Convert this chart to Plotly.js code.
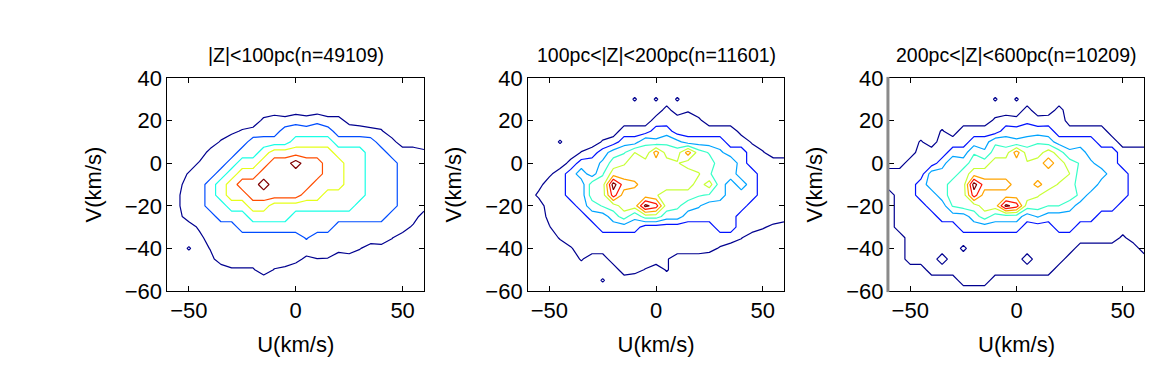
<!DOCTYPE html>
<html>
<head>
<meta charset="utf-8">
<script src="https://cdn.plot.ly/plotly-3.0.1.min.js"></script>
<style>
  html, body { margin: 0; padding: 0; background: #ffffff; }
  #chart { width: 1168px; height: 371px; }
</style>
</head>
<body>
<div id="chart"></div>
<script>
// Grid of velocity bins (km/s)
const U_VALUES = [-60,-55,-50,-45,-40,-35,-30,-25,-20,-15,-10,-5,0,5,10,15,20,25,30,35,40,45,50,55,60];
const V_VALUES = [-60,-55,-50,-45,-40,-35,-30,-25,-20,-15,-10,-5,0,5,10,15,20,25,30,35,40];

const PANEL_TITLES = ['|Z|<100pc(n=49109)', '100pc<|Z|<200pc(n=11601)', '200pc<|Z|<600pc(n=10209)'];
const X_TICKS = [-50, 0, 50];
const Y_TICKS = [-60, -40, -20, 0, 20, 40];

// Density level (rows: V from -60 up to 40; columns: U from -60 to 60)
const Z_NEAR = [
  [0,0,0,0,0,0,0,0,0,0,0,0,0,0,0,0,0,0,0,0,0,0,0,0,0],
  [0,0,0,0,0,0,0,0,0,0,0,0,0,0,0,0,0,0,0,0,0,0,0,0,0],
  [0,0,0,0,0,0,0.4,0.4,0.4,1,0.45,0.3,0,0,0,0,0,0,0,0,0,0,0,0,0],
  [0,0,0,0,0.2,1,1,1,1,1,1,1,0.8,0.3,0.48,0.45,0,0,0,0,0,0,0,0,0],
  [0,0,0.6,0,0.55,1,1,1,1,1,1,1,1,1,1,1,0.8,1,0.55,0.1,0.2,0,0,0,0],
  [0,0,0,0.2,1,1,1,1,1,1,1,1,1,1.6,1,1,1,1,1,1,1,0.55,0,0,0],
  [0,0,0,0.7,1,1,1,2,2,2,2,2,2,2,2,2,1,1,1,1,1,1,1,0.3,0],
  [0,0.2,1,1,1,2,2,2,3,3,3,3,2,2,2,2,2,2,2,2,2,1,1,1,0],
  [0,0.4,1,1,2,2,3,3,4,4,3,3,3,3,3,3,3,3,2,2,2,2,1,1,1],
  [0,0.4,1,1,2,3,4,4,5,5,5,5,5,4,4,3,3,3,3,2,2,2,1,1,1],
  [0,0.2,1,1,2,3,4,5,5,6,5,5,5,5,4,4,4,3,3,2,2,2,1,1,1],
  [0,0,0.6,1,1,2,3,4,4,5,5,5,5,5,5,4,4,3,3,2,2,2,1,1,1],
  [0,0,0,0.6,1,1,2,3,3,4,5,5,6,5,5,4,4,3,3,2,2,2,1,1,1],
  [0,0,0,0,0.8,1,1,2,2,3,4,4,4,4,4,4,3,3,3,2,2,1,1,1,0.7],
  [0,0,0,0,0,0.6,1,1,2,2,2,2,3,3,3,3,2,2,2,2,1,0.8,0,0,0],
  [0,0,0,0,0,0,0.3,0.6,0.8,1,1,2,2,2,2,2,1,1,1,0.75,0.6,0,0,0,0],
  [0,0,0,0,0,0,0,0,0,0.7,1,0.8,1.2,0.9,1.3,0.8,0.8,0.2,0,0,0,0,0,0,0],
  [0,0,0,0,0,0,0,0,0,0,0,0,0,0,0,0,0,0,0,0,0,0,0,0,0],
  [0,0,0,0,0,0,0,0,0,0,0,0,0,0,0,0,0,0,0,0,0,0,0,0,0],
  [0,0,0,0,0,0,0,0,0,0,0,0,0,0,0,0,0,0,0,0,0,0,0,0,0],
  [0,0,0,0,0,0,0,0,0,0,0,0,0,0,0,0,0,0,0,0,0,0,0,0,0]
];

const Z_MID = [
  [0,0,0,0,0,0,0,0,0,0,0,0,0,0,0,0,0,0,0,0,0,0,0,0,0],
  [0,0,0,0,0,0,0,0.6,0,0,0,0,0,0,0,0,0,0,0,0,0,0,0,0,0],
  [0,0,0,0,0,0,0,0,0,1,0.8,0.45,0,0.6,0,0,0,0,0,0,0,0,0,0,0],
  [0,0,0,0,0,0.6,0,0,1,1,1,1,1,0.6,0,0,0,0,0,0,0,0,0,0,0],
  [0,0,0,0,0.4,1,1,1,1,1,1,1,1,1,1,1,1,0.8,0.4,0,0,0,0,0,0],
  [0,0,0,0.6,1,1,1,1,1,1,1,1,1,1,1,1,1,1,1,1,0.55,0,0,0,0],
  [0,0,0.45,1,1,1,1,2,2,2,2,1,1,1,1,1,1,1,2,2,1,1,0.6,0.3,0],
  [0,0,0.75,1,1,1,2,2,3,4,2.7,4,4,3,3,2,2,2,2,2,1,1,1,1,1],
  [0,0,1,1,1,2,3,3.6,4,5,5,7.8,7,4,3.7,3,2.6,2,2,2,2,1,1,1,1],
  [0,0.7,1,1,2,2,4,4,7,5,5,5,4.6,4,4,4,3.6,3.4,3,2,2,2,1,1,1],
  [0,0.2,1,1,2,2,4,4,8,6,5.7,5,5,5,5,5,4,5,3,2,3,2,1,1,1],
  [0,0,0.3,1,2,3,2,3.4,5,5,5,5,5,5,5,5,4.6,3.6,3,3,2,2,1,1,1],
  [0,0,0,0,0.8,2,2,2.7,4,4.4,5,5,5,5,4.6,4,3.7,4,3,3.3,2,1,1,1,1],
  [0,0,0,0,0,0.55,1,2,3,3.4,4.5,3.7,6,4,4,6,4,3.4,2.7,2,2,1,0.6,0,0],
  [0,0,0,0.6,0,0,0,0.6,1,2,2,3.4,2.7,3.3,2.8,2,2,2,2,1,1,0.4,0,0,0],
  [0,0,0,0,0,0,0,0,0,1,1,1,2,2,1,1,1,1,1,1,0.2,0,0,0,0],
  [0,0,0,0,0,0,0,0,0,0,0,0,0.9,1,1,1.4,0.7,0,0,0,0,0,0,0,0],
  [0,0,0,0,0,0,0,0,0,0,0,0,0,0.8,0,0.3,0,0,0,0,0,0,0,0,0],
  [0,0,0,0,0,0,0,0,0,0,0.6,0,0.6,0,0.6,0,0,0,0,0,0,0,0,0,0],
  [0,0,0,0,0,0,0,0,0,0,0,0,0,0,0,0,0,0,0,0,0,0,0,0,0],
  [0,0,0,0,0,0,0,0,0,0,0,0,0,0,0,0,0,0,0,0,0,0,0,0,0]
];

const Z_HIGH = [
  [0,0,0,0,0,0,0,0,0,0,0,0,0,0,0,0,0,0,0,0,0,0,0,0,0],
  [0,0,0,0,0,0,0,1,1,1,0,0,0,0,0,0,0,0,0,0,0,0,0,0,0],
  [0,0,0,0,1,1,1,1,1,1,1,1,1,1,1,1,0,0,0,0,0,0,0,0,0],
  [0,0,1,1,1,0,1,1,1,1,1,1,1,0,1,1,1,0,0,0,0,0,0,0,0],
  [0,0,1,1,1,1,1,0.3,1,1,1,1,1,1,1,1,1,1,0,0,0,0,0,0,1],
  [0,0,1,1,1,1,1,1,1,1,1,1,1,1,1,1,1,1,1,1,1,1,0.3,1,1],
  [0,1,1,1,1,1,1,2,2,2,2,2,2,1,1,1,2,2,1,1,1,1,1,1,1],
  [0,1,1,1,1,2,2,2,3,4,3,3,3,2,2.6,2,2,2,2,2,1,1,1,1,1],
  [0,1,1,1,2,2,3.6,4,4,5,5,7.8,7,4,4,3.5,3.5,3,2,2,2,2,1,1,1],
  [0,1,1,2,2,3,4,4,7,5,5,5,5,5,4.6,4,4,4,3.3,2,2,2,2,1,1],
  [1,1,1,2,3,3,4,4,8,6,6,6,5,5,5.8,5,4.4,4,3,3.4,2,2,2,1,1],
  [1,1,1,1,3,3,3,4,5,5,5,5,5,5,5,5,5,4.5,3,3,3,2,2,1,1],
  [0,0,1,1,1,2,3.4,3,4,4,5,5,5,4.6,5,6,5,4,3.4,2.7,2,2,1,1,1],
  [0,0,0,1,1,1,2,2,3.4,2.7,4,4,6,4,4,5,4,2.7,3,2,2,2,1,1,1],
  [0,0,0,0.6,0,1,1,1,2,2,3.3,3,2.7,3,3.4,3,2,2,2,2,1,1,0,0,0],
  [0,0,0,0,0,0.6,0,1,1,1,1,2,2,2,2,2,1,1,1,1,1,0,0,0,0],
  [0,0,0,0,0,0,0,0,0,0,0.7,1,0.8,1.3,0.9,1,1.2,0,0,0,0,0,0,0,0],
  [0,0,0,0,0,0,0,0,0,0,0,0,0,0.8,0,0,0.8,0,0,0,0,0,0,0,0],
  [0,0,0,0,0,0,0,0,0,0,0.6,0,0.6,0,0,0,0,0,0,0,0,0,0,0,0],
  [0,0,0,0,0,0,0,0,0,0,0,0,0,0,0,0,0,0,0,0,0,0,0,0,0],
  [0,0,0,0,0,0,0,0,0,0,0,0,0,0,0,0,0,0,0,0,0,0,0,0,0]
];

// Jet-like line colours, one per contour level
const COLORS_6 = ['rgb(0,0,143)','rgb(0,77,255)','rgb(26,255,230)','rgb(230,255,26)','rgb(255,77,0)','rgb(128,0,0)'];
const COLORS_8 = ['rgb(0,0,143)','rgb(0,18,255)','rgb(0,164,255)','rgb(55,255,200)','rgb(200,255,55)','rgb(255,164,0)','rgb(255,18,0)','rgb(128,0,0)'];

function scaleFrom(colors) {
  const n = colors.length;
  return colors.map((c, i) => [i / (n - 1), c]);
}

function contourTrace(z, colors, xa, ya) {
  const n = colors.length;
  return {
    type: 'contour',
    x: U_VALUES,
    y: V_VALUES,
    z: z,
    xaxis: xa,
    yaxis: ya,
    autocontour: false,
    contours: { coloring: 'lines', start: 0.5, end: n - 0.5, size: 1, showlabels: false },
    colorscale: scaleFrom(colors),
    showscale: false,
    line: { width: 1.2, smoothing: 0 },
    hoverinfo: 'skip'
  };
}

const data = [
  contourTrace(Z_NEAR, COLORS_6, 'x', 'y'),
  contourTrace(Z_MID, COLORS_8, 'x2', 'y2'),
  contourTrace(Z_HIGH, COLORS_8, 'x3', 'y3')
];

const FONT = 'Liberation Sans, Arial, sans-serif';
const X_DOMAINS = [[0.1434, 0.3630], [0.4521, 0.6712], [0.7611, 0.9795]];
const Y_DOMAIN = [0.2156, 0.7898];

function fmt(v) { return v < 0 ? '\u2212' + Math.abs(v) : String(v); }

function xAxis(domain, anchor) {
  return {
    domain: domain, anchor: anchor, range: [-60, 60],
    tickvals: X_TICKS, ticktext: X_TICKS.map(fmt),
    ticks: 'inside', ticklen: 5, tickcolor: '#000', tickwidth: 1,
    showline: true, linecolor: '#000', linewidth: 1, mirror: 'ticks',
    showgrid: false, zeroline: false,
    tickfont: { family: FONT, size: 22, color: '#000' },
    title: { text: 'U(km/s)', font: { family: FONT, size: 22, color: '#000' }, standoff: 14 }
  };
}
function yAxis(anchor) {
  return {
    domain: Y_DOMAIN, anchor: anchor, range: [-60, 40],
    tickvals: Y_TICKS, ticktext: Y_TICKS.map(fmt),
    ticks: 'inside', ticklen: 5, tickcolor: '#000', tickwidth: 1,
    showline: true, linecolor: '#000', linewidth: 1, mirror: 'ticks',
    showgrid: false, zeroline: false,
    tickfont: { family: FONT, size: 22, color: '#000' },
    title: { text: 'V(km/s)', font: { family: FONT, size: 22, color: '#000' }, standoff: 17 }
  };
}

const layout = {
  width: 1168, height: 371, autosize: false,
  margin: { l: 0, r: 0, t: 0, b: 0 },
  paper_bgcolor: '#ffffff', plot_bgcolor: '#ffffff',
  showlegend: false,
  xaxis: xAxis(X_DOMAINS[0], 'y'),
  yaxis: yAxis('x'),
  xaxis2: xAxis(X_DOMAINS[1], 'y2'),
  yaxis2: yAxis('x2'),
  xaxis3: xAxis(X_DOMAINS[2], 'y3'),
  yaxis3: yAxis('x3'),
  annotations: PANEL_TITLES.map((t, i) => ({
    text: t, xref: 'paper', yref: 'paper',
    x: (X_DOMAINS[i][0] + X_DOMAINS[i][1]) / 2, y: 0.852,
    xanchor: 'center', yanchor: 'middle', showarrow: false,
    font: { family: FONT, size: 19.5, color: '#000' }
  })),
  shapes: [{
    type: 'line', xref: 'x3 domain', yref: 'y3 domain',
    x0: -0.004, x1: -0.004, y0: -0.005, y1: 1.005,
    line: { color: '#8a8a8a', width: 3 }
  }]
};

Plotly.newPlot('chart', data, layout, { staticPlot: true, displayModeBar: false });
</script>
</body>
</html>
